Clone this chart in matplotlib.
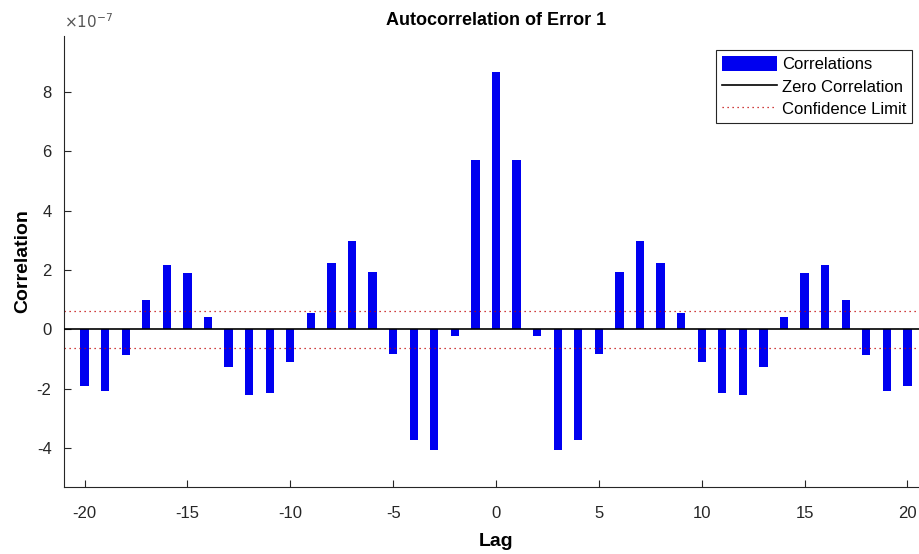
import numpy as np
import matplotlib
matplotlib.use("Agg")
import matplotlib.pyplot as plt
from matplotlib.ticker import FuncFormatter

plt.rcParams["font.family"] = ["Liberation Sans", "DejaVu Sans"]
plt.rcParams["axes.unicode_minus"] = False

# autocorrelation values, in units of 1e-7, lags -20..20
lags = np.arange(-20, 21)
corr_half = [8.67, 5.72, -0.22, -4.06, -3.72, -0.82, 1.94, 2.98, 2.24, 0.56,
             -1.11, -2.14, -2.22, -1.26, 0.42, 1.91, 2.17, 0.99, -0.87, -2.08, -1.90]
corr = np.array(corr_half[:0:-1] + corr_half) * 1e-7
conf_limit = 0.63e-7

fig = plt.figure(figsize=(9.19, 5.54), dpi=100)
# axes extends past the right edge, like the cropped original
ax = fig.add_axes([64 / 919, 1 - 487 / 554, (928 - 64) / 919, (487 - 36) / 554])

bars = ax.bar(lags, corr, width=0.4, color="#0000f0", label="Correlations", zorder=2)
zero = ax.axhline(0, color="black", lw=1.2, label="Zero Correlation", zorder=3)
conf = ax.axhline(conf_limit, color="#c00000", lw=0.9, ls=(0, (1, 3)), label="Confidence Limit")
ax.axhline(-conf_limit, color="#c00000", lw=0.9, ls=(0, (1, 3)))

ax.set_xlim(-21, 21)
ax.set_ylim(-5.31e-7, 9.88e-7)
ax.set_xticks([-20, -15, -10, -5, 0, 5, 10, 15, 20])
ax.set_yticks(np.arange(-4, 9, 2) * 1e-7)
ax.yaxis.set_major_formatter(FuncFormatter(lambda v, _: f"{v * 1e7:.0f}"))
ax.text(0.0, 1.01, r"$\times10^{-7}$", transform=ax.transAxes, fontsize=11,
        color="#555555", ha="left", va="bottom", family="Liberation Sans")

for s in ["top", "right"]:
    ax.spines[s].set_visible(False)
for s in ["left", "bottom"]:
    ax.spines[s].set_color("#262626")
ax.tick_params(direction="in", length=5, labelsize=12, colors="#262626")
ax.tick_params(axis="x", pad=14)
ax.tick_params(axis="y", pad=9)

ax.set_title("Autocorrelation of Error 1", fontsize=13, fontweight="bold", pad=8)
ax.set_xlabel("Lag", fontsize=14, fontweight="bold", labelpad=8)
ax.set_ylabel("Correlation", fontsize=14, fontweight="bold")

leg = ax.legend([bars, zero, conf], ["Correlations", "Zero Correlation", "Confidence Limit"],
                loc="upper right", bbox_to_anchor=(912 / 919, 1 - 50 / 554),
                bbox_transform=fig.transFigure, fontsize=12, fancybox=False,
                framealpha=1, edgecolor="#262626", borderpad=0.35,
                labelspacing=0.38, handlelength=3.3, handleheight=1.0,
                handletextpad=0.3, borderaxespad=0)
leg.get_frame().set_linewidth(0.8)

fig.savefig("out.png", dpi=100)
